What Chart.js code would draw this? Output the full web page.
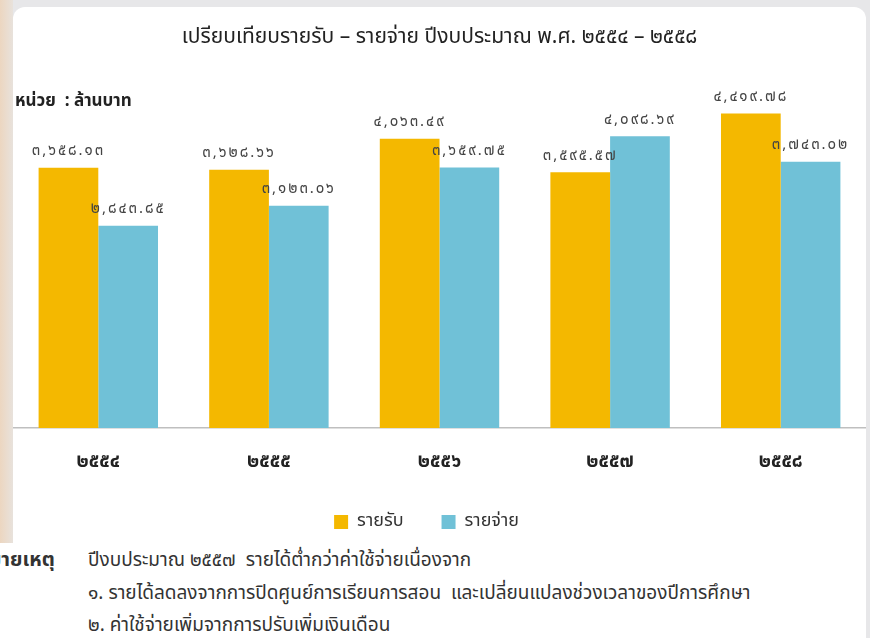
<!DOCTYPE html>
<html lang="th">
<head>
<meta charset="utf-8">
<script src="https://cdn.jsdelivr.net/npm/chart.js@4.4.0/dist/chart.umd.min.js"></script>
<style>
    html, body { margin: 0; padding: 0; }
    body {
        width: 870px; height: 638px; overflow: hidden; position: relative;
        background: linear-gradient(to right, #ecd6c0 0, #e8e2dc 13px, #e7e7e9 13px);
        font-family: Tahoma, "Noto Sans Thai", sans-serif;
    }
    #panel { position: absolute; left: 13px; top: 7px; width: 853px; height: 680px; background: #fff; border-radius: 12px; }
    #wrap { position: absolute; left: 13px; top: 7px; width: 853px; height: 534px; }
    #unit { position: absolute; left: 15px; top: 88px; font-size: 17px; font-weight: bold; color: #222; }
    #note { position: absolute; left: 0; top: 543px; width: 866px; height: 95px; background: #fff; font-size: 19px; color: #333; }
    #note div { position: absolute; white-space: nowrap; }
</style>
</head>
<body>
<div id="panel"></div>
<div id="wrap"><canvas id="graficoReceitaDespesa"></canvas></div>
<div id="unit">หน่วย&nbsp; : ล้านบาท</div>
<div id="note">
    <div style="left:-24px; top:2px; font-weight:bold; font-size:20px;">หมายเหตุ</div>
    <div style="left:88px; top:3px;">ปีงบประมาณ ๒๕๕๗&nbsp; รายได้ต่ำกว่าค่าใช้จ่ายเนื่องจาก</div>
    <div style="left:88px; top:36px;">๑. รายได้ลดลงจากการปิดศูนย์การเรียนการสอน&nbsp; และเปลี่ยนแปลงช่วงเวลาของปีการศึกษา</div>
    <div style="left:88px; top:68px;">๒. ค่าใช้จ่ายเพิ่มจากการปรับเพิ่มเงินเดือน</div>
</div>
<script>
const anos = ['๒๕๕๔', '๒๕๕๕', '๒๕๕๖', '๒๕๕๗', '๒๕๕๘'];
const receita = [3658.13, 3628.66, 4063.49, 3595.57, 4419.78];
const despesa = [2843.85, 3123.06, 3659.75, 4098.69, 3743.02];
const nomesSeries = ['รายรับ', 'รายจ่าย'];
const titulo = 'เปรียบเทียบรายรับ – รายจ่าย ปีงบประมาณ พ.ศ. ๒๕๕๔ – ๒๕๕๘';

const fonte = 'Tahoma, "Noto Sans Thai", sans-serif';
const digitosThai = ['๐', '๑', '๒', '๓', '๔', '๕', '๖', '๗', '๘', '๙'];
const paraThai = (v) => v.toLocaleString('en-US', { minimumFractionDigits: 2, maximumFractionDigits: 2 })
    .replace(/[0-9]/g, d => digitosThai[+d]);

// escreve o valor em cima de cada barra
const rotulosValores = {
    id: 'rotulosValores',
    afterLayout(chart) {
        // legenda um pouco para a esquerda, como no original
        chart.legend.left -= 13;
        chart.legend.right -= 13;
    },
    afterDatasetsDraw(chart) {
        const ctx = chart.ctx;
        ctx.save();
        ctx.font = '15px ' + fonte;
        ctx.letterSpacing = '2px';
        ctx.fillStyle = '#444';
        ctx.textAlign = 'center';
        ctx.textBaseline = 'bottom';
        chart.data.datasets.forEach((ds, i) => {
            chart.getDatasetMeta(i).data.forEach((barra, j) => {
                ctx.fillText(paraThai(ds.data[j]), barra.x, barra.y - 8);
            });
        });
        ctx.restore();
    }
};

const ctx = document.getElementById('graficoReceitaDespesa').getContext('2d');
new Chart(ctx, {
    type: 'bar',
    data: {
        labels: anos,
        datasets: [{
            label: nomesSeries[0],
            data: receita,
            backgroundColor: '#f4b800',
            categoryPercentage: 0.7,
            barPercentage: 1.0
        }, {
            label: nomesSeries[1],
            data: despesa,
            backgroundColor: '#70c1d7',
            categoryPercentage: 0.7,
            barPercentage: 1.0
        }]
    },
    options: {
        responsive: true,
        maintainAspectRatio: false,
        animation: false,
        layout: { padding: 0 },
        scales: {
            x: {
                grid: { display: false, drawTicks: false },
                border: { display: true, color: '#bfbfbf', width: 1.5 },
                ticks: { color: '#222', padding: 24, font: { family: fonte, size: 19, weight: 'bold' } },
                afterFit: (escala) => { escala.height = 47; }
            },
            y: { display: false, min: 0, max: 5000 }
        },
        plugins: {
            title: {
                display: true,
                text: titulo,
                color: '#222',
                font: { family: fonte, size: 21, weight: 'normal' },
                padding: { top: 19, bottom: 21 }
            },
            legend: {
                display: true,
                position: 'bottom',
                labels: { boxWidth: 14, boxHeight: 14, padding: 38, color: '#333', font: { family: fonte, size: 18 } }
            },
            tooltip: { enabled: false }
        }
    },
    plugins: [rotulosValores]
});
</script>
</body>
</html>
